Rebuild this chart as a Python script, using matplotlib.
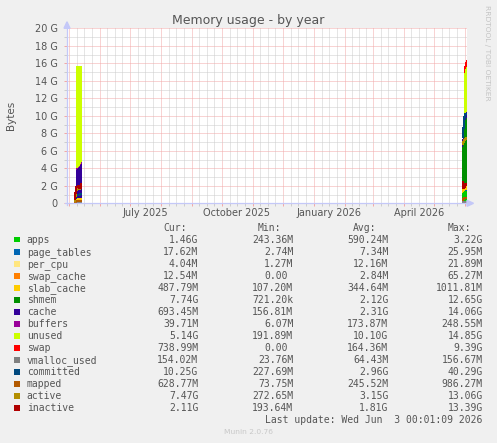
import datetime as dt
import matplotlib
matplotlib.use("Agg")
import matplotlib.pyplot as plt
import matplotlib.dates as mdates
from matplotlib.patches import Rectangle, Polygon
from matplotlib.lines import Line2D

# ---------------- data ----------------
dates = ["2025-05-06", "2025-05-07", "2025-05-08", "2025-05-09", "2025-05-10",
         "2025-05-11", "2025-05-12", "2025-05-13",
         "2026-05-29", "2026-05-30", "2026-05-31", "2026-06-01", "2026-06-02"]

# stacked areas (G)
apps        = [0.15, 0.20, 0.25, 0.25, 0.25, 0.25, 0.25, 0.25, 1.20, 1.30, 1.40, 1.45, 1.46]
page_tables = [0.003, 0.003, 0.003, 0.003, 0.003, 0.003, 0.003, 0.003, 0.012, 0.014, 0.016, 0.017, 0.0176]
per_cpu     = [0.02, 0.02, 0.02, 0.02, 0.02, 0.02, 0.02, 0.02, 0.006, 0.005, 0.004, 0.004, 0.004]
swap_cache  = [0.0, 0.0, 0.0, 0.0, 0.0, 0.0, 0.0, 0.0, 0.0, 0.005, 0.01, 0.012, 0.0125]
slab_cache  = [0.20, 0.30, 0.35, 0.35, 0.35, 0.35, 0.35, 0.35, 0.40, 0.44, 0.47, 0.48, 0.488]
shmem       = [0.01, 0.01, 0.01, 0.01, 0.01, 0.01, 0.01, 0.01, 4.80, 5.60, 7.20, 7.60, 7.74]
cache       = [0.10, 0.60, 3.20, 3.30, 3.40, 3.50, 3.70, 3.90, 0.90, 0.80, 0.72, 0.70, 0.693]
buffers     = [0.02, 0.10, 0.15, 0.15, 0.15, 0.15, 0.15, 0.15, 0.05, 0.045, 0.04, 0.04, 0.0397]
unused      = [0.0, 0.0, 11.70, 11.60, 11.50, 11.40, 11.20, 11.00, 0.0, 0.0, 5.00, 5.10, 5.14]
swap        = [0.0, 0.0, 0.0, 0.0, 0.0, 0.0, 0.0, 0.0, 0.0, 0.0, 0.80, 0.78, 0.739]

# lines (G)
vmalloc_used = [0.03, 0.03, 0.03, 0.03, 0.03, 0.03, 0.03, 0.03, 0.14, 0.15, 0.15, 0.154, 0.154]
committed    = [0.30, 0.60, 0.90, 0.95, 1.00, 1.00, 1.05, 1.10, 7.60, 8.60, 9.90, 10.20, 10.25]
mapped       = [0.15, 0.20, 0.25, 0.25, 0.25, 0.25, 0.25, 0.25, 0.40, 0.50, 0.60, 0.62, 0.63]
active       = [0.30, 0.80, 1.50, 1.60, 1.60, 1.65, 1.70, 1.75, 6.80, 7.00, 7.20, 7.40, 7.47]
inactive     = [0.50, 1.20, 1.90, 1.90, 2.00, 1.70, 1.80, 2.20, 2.40, 1.70, 1.90, 2.20, 2.11]

names = ["apps", "page_tables", "per_cpu", "swap_cache", "slab_cache", "shmem", "cache",
         "buffers", "unused", "swap", "vmalloc_used", "committed", "mapped", "active", "inactive"]
colors = ["#00CC00", "#0066B3", "#FFE680", "#FF8000", "#FFCC00", "#008F00", "#330099",
          "#990099", "#CCFF00", "#FF0000", "#808080", "#00487D", "#B35A00", "#B38F00", "#B00000"]
cur_vals = ["1.46G", "17.62M", "4.04M", "12.54M", "487.79M", "7.74G", "693.45M", "39.71M",
            "5.14G", "738.99M", "154.02M", "10.25G", "628.77M", "7.47G", "2.11G"]
min_vals = ["243.36M", "2.74M", "1.27M", "0.00", "107.20M", "721.20k", "156.81M", "6.07M",
            "191.89M", "0.00", "23.76M", "227.69M", "73.75M", "272.65M", "193.64M"]
avg_vals = ["590.24M", "7.34M", "12.16M", "2.84M", "344.64M", "2.12G", "2.31G", "173.87M",
            "10.10G", "164.36M", "64.43M", "2.96G", "245.52M", "3.15G", "1.81G"]
max_vals = ["3.22G", "25.95M", "21.89M", "65.27M", "1011.81M", "12.65G", "14.06G", "248.55M",
            "14.85G", "9.39G", "156.67M", "40.29G", "986.27M", "13.06G", "13.39G"]

y_ticks = [0, 2, 4, 6, 8, 10, 12, 14, 16, 18, 20]
x_labels = ["July 2025", "October 2025", "January 2026", "April 2026"]
x_label_dates = ["2025-07-16", "2025-10-16", "2026-01-16", "2026-04-16"]

stack_series = [apps, page_tables, per_cpu, swap_cache, slab_cache, shmem, cache,
                buffers, unused, swap]
line_series = [vmalloc_used, committed, mapped, active, inactive]

# ---------------- layout ----------------
W, H = 497, 443
BG = "#F0F0F0"
TXT = "#555555"
fig = plt.figure(figsize=(W / 100, H / 100), dpi=100, facecolor=BG)

L, R, T, B = 67, 467, 28.3, 203.3
ax = fig.add_axes([L / W, (H - B) / H, (R - L) / W, (B - T) / H])
ax.set_facecolor("white")

def fx(x):
    return x / W

def fy(y):
    return 1 - y / H

t = [dt.datetime.strptime(d, "%Y-%m-%d") for d in dates]
start = dt.datetime(2025, 4, 29, 0, 1, 9)
end = dt.datetime(2026, 6, 3, 0, 1, 9)

# split into contiguous chunks
chunks = []
cur = [0]
for i in range(1, len(t)):
    if (t[i] - t[i - 1]).days > 1:
        chunks.append(cur)
        cur = []
    cur.append(i)
chunks.append(cur)

for idx in chunks:
    xs = [t[i] for i in idx] + [t[idx[-1]] + dt.timedelta(days=1)]
    base = [0.0] * len(xs)
    for s, c in zip(stack_series, colors[:10]):
        v = [s[i] for i in idx] + [s[idx[-1]]]
        top = [b + vv for b, vv in zip(base, v)]
        ax.fill_between(xs, base, top, step="post", color=c, linewidth=0, zorder=2)
        base = top
    for s, c in zip(line_series, colors[10:]):
        v = [s[i] for i in idx] + [s[idx[-1]]]
        ax.plot(xs, v, drawstyle="steps-post", color=c, lw=1.44, zorder=3,
                solid_capstyle="butt", solid_joinstyle="miter")

ax.set_xlim(start, end)
ax.set_ylim(0, 20)

# grid positions
month_starts = []
quarter_lines = []
y0, m0 = 2025, 4
while (y0, m0) <= (2026, 6):
    ms = dt.datetime(y0, m0, 1)
    ny, nm = (y0 + 1, 1) if m0 == 12 else (y0, m0 + 1)
    me = dt.datetime(ny, nm, 1)
    if start <= ms <= end:
        month_starts.append(ms)
    for k in (1, 2, 3):
        q = ms + (me - ms) * k / 4
        if start <= q <= end:
            quarter_lines.append(q)
    y0, m0 = ny, nm

ax.set_xticks(month_starts)
ax.set_xticks(quarter_lines, minor=True)
ax.set_xticklabels([])
ax.set_yticks(y_ticks)
ax.set_yticks([v + 1 for v in y_ticks[:-1]], minor=True)
ax.set_yticklabels(["0" if v == 0 else f"{v} G" for v in y_ticks])

MG = "#F2A8A8"
mg = "#CDCDCD"
ax.grid(which="major", color=MG, linestyle=(0, (1, 1)), linewidth=0.72)
ax.grid(which="minor", color=mg, linestyle=(0, (1, 1)), linewidth=0.72)
ax.set_axisbelow(True)

ax.tick_params(which="major", length=2.2, width=0.72, color=MG, direction="out",
               labelsize=7, labelcolor=TXT, pad=4.5)
ax.tick_params(which="minor", length=2.2, width=0.72, color=mg, direction="out")
for lab in ax.get_yticklabels():
    lab.set_fontfamily("DejaVu Sans")

for sp in ax.spines.values():
    sp.set_visible(False)

# month labels (centred mid-month)
for lbl, d in zip(x_labels, x_label_dates):
    ax.text(dt.datetime.strptime(d, "%Y-%m-%d"), -9.6 / (B - T), lbl,
            transform=ax.get_xaxis_transform(), ha="center", va="center",
            fontsize=7, color=TXT, clip_on=False)

# axes lines + arrows
AX = "#C4C8F8"
fig.add_artist(Line2D([fx(L - 2), fx(R + 1)], [fy(B), fy(B)], color=AX, lw=0.9,
                      transform=fig.transFigure))
fig.add_artist(Line2D([fx(L), fx(L)], [fy(B + 2), fy(T - 1)], color=AX, lw=0.9,
                      transform=fig.transFigure))
fig.add_artist(Polygon([[fx(R), fy(B - 3)], [fx(R), fy(B + 3)], [fx(R + 6.5), fy(B)]],
                       closed=True, color=AX, transform=fig.transFigure))
fig.add_artist(Polygon([[fx(L - 3), fy(T)], [fx(L + 3), fy(T)], [fx(L), fy(T - 6.5)]],
                       closed=True, color=AX, transform=fig.transFigure))

# titles
fig.text(fx(248), fy(24), "Memory usage - by year", ha="center", va="baseline",
         fontsize=9, color=TXT)
fig.text(fx(11), fy(115), "Bytes", rotation=90, ha="center", va="center",
         fontsize=7.5, color=TXT)
fig.text(fx(487.5), fy(53), "RRDTOOL / TOBI OETIKER", rotation=270, ha="center",
         va="center", fontsize=5.4, color="#C4C4C4")

# legend
MONO = "DejaVu Sans Mono"
CW = 5.9
cols = [198.3, 293.3, 388.3, 482.7]
heads = ["Cur:", "Min:", "Avg:", "Max:"]
for hx, h in zip(cols, heads):
    fig.text(fx(hx - 2 * CW), fy(231.3), h, ha="right", va="baseline",
             fontsize=7, color=TXT, family=MONO)

row0 = 239.7
for i, nm in enumerate(names):
    yc = row0 + 12 * i
    fig.add_artist(Rectangle((fx(14), fy(yc + 2.8)), 5.6 / W, 5.6 / H,
                             transform=fig.transFigure, color=colors[i], lw=0))
    fig.text(fx(26.7), fy(yc + 3.6), nm, ha="left", va="baseline", fontsize=7,
             color=TXT, family=MONO)
    for cx, vals in zip(cols, [cur_vals, min_vals, avg_vals, max_vals]):
        s = vals[i]
        xr = cx - CW if s[-1].isdigit() else cx
        fig.text(fx(xr), fy(yc + 3.6), s, ha="right", va="baseline", fontsize=7,
                 color=TXT, family=MONO)

fig.text(fx(482.7), fy(423), "Last update: Wed Jun  3 00:01:09 2026", ha="right",
         va="baseline", fontsize=7, color=TXT, family=MONO)
fig.text(fx(248), fy(434.5), "Munin 2.0.76", ha="center", va="baseline",
         fontsize=5.4, color="#C8C8C8")

fig.savefig("out.png", dpi=100, facecolor=BG)
